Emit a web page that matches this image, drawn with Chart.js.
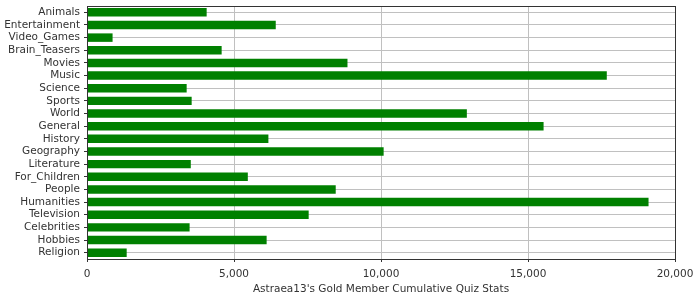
<!DOCTYPE html>
<html>
<head>
<meta charset="utf-8">
<script src="https://cdn.jsdelivr.net/npm/chart.js@4"></script>
<style>
  html, body { margin: 0; padding: 0; background: #fff; }
  #wrap { width: 700px; height: 300px; }
</style>
</head>
<body>
<div id="wrap"><canvas id="quizChart"></canvas></div>
<script>
const categories = ['Animals', 'Entertainment', 'Video_Games', 'Brain_Teasers', 'Movies',
    'Music', 'Science', 'Sports', 'World', 'General', 'History', 'Geography', 'Literature',
    'For_Children', 'People', 'Humanities', 'Television', 'Celebrities', 'Hobbies', 'Religion'];
const quizStats = [4070, 6420, 870, 4580, 8860,
    17680, 3390, 3560, 12920, 15530, 6170, 10090, 3530,
    5470, 8460, 19100, 7540, 3490, 6110, 1350];
const xTicks = [0, 5000, 10000, 15000, 20000];

const textColor = '#333333';
const gridColor = '#c0c0c0';

// frame round the plot area (top and right sides)
const frame = {
    id: 'frame',
    afterDraw(chart) {
        const {ctx, chartArea: a} = chart;
        ctx.save();
        ctx.strokeStyle = textColor;
        ctx.lineWidth = 1;
        ctx.strokeRect(Math.round(a.left) + 0.5, Math.round(a.top) + 0.5,
            Math.round(a.right - a.left), Math.round(a.bottom - a.top));
        ctx.restore();
    }
};

Chart.defaults.font.family = '"DejaVu Sans", sans-serif';
Chart.defaults.font.size = 10.5;
Chart.defaults.color = textColor;

const ctx = document.getElementById('quizChart').getContext('2d');
new Chart(ctx, {
    type: 'bar',
    data: {
        labels: categories,
        datasets: [{
            label: 'Quiz Stats',
            data: quizStats,
            backgroundColor: '#008000',
            borderWidth: 0,
            categoryPercentage: 1,
            barPercentage: 0.67
        }]
    },
    plugins: [frame],
    options: {
        indexAxis: 'y',
        responsive: true,
        maintainAspectRatio: false,
        animation: false,
        layout: {padding: {top: 6, right: 25, left: 0, bottom: 4}},
        plugins: {
            legend: {display: false},
            tooltip: {enabled: false}
        },
        scales: {
            x: {
                min: 0,
                max: 20000,
                afterBuildTicks: s => { s.ticks = xTicks.map(v => ({value: v})); },
                ticks: {
                    padding: 6,
                    maxRotation: 0,
                    callback: v => v.toLocaleString('en-US')
                },
                grid: {color: gridColor, tickLength: 3, tickColor: textColor},
                border: {color: textColor},
                title: {
                    display: true,
                    text: "Astraea13's Gold Member Cumulative Quiz Stats",
                    padding: {top: 0, bottom: 0}
                },
                afterFit: s => { s.height = 37; }
            },
            y: {
                grid: {color: gridColor, offset: false, tickLength: 3, tickColor: textColor},
                border: {color: textColor},
                ticks: {padding: 4, autoSkip: false},
                afterFit: s => { s.width = 87; s.paddingTop = 0; s.paddingBottom = 0; }
            }
        }
    }
});
</script>
</body>
</html>
